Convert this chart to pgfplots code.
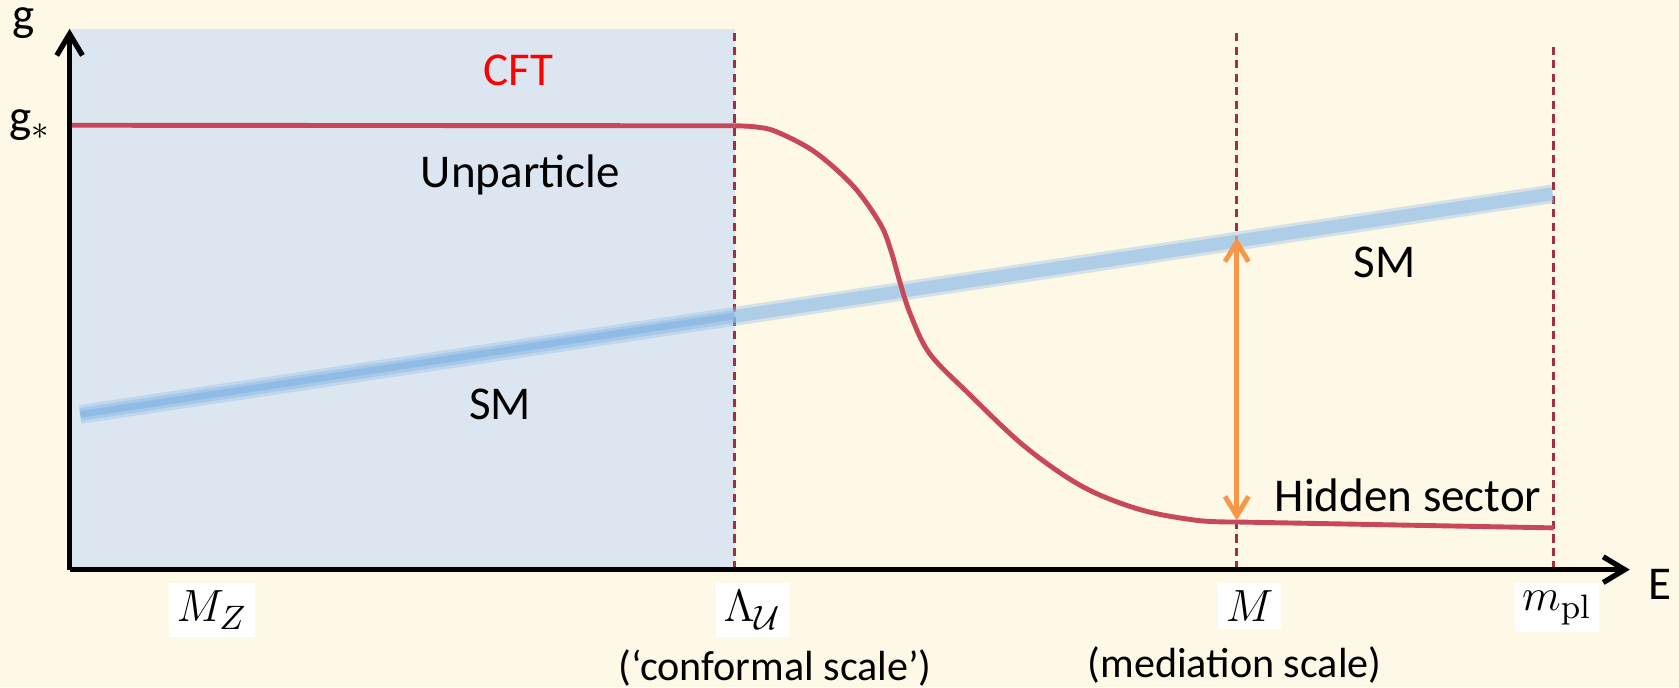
\documentclass[border=0pt]{standalone}
\usepackage[no-math]{fontspec}
\setmainfont{Carlito}
\usepackage{pgfplots}
\pgfplotsset{compat=1.18}
\usetikzlibrary{arrows.meta}
\definecolor{cream}{RGB}{254,248,230}
\definecolor{shade}{RGB}{220,230,241}
\definecolor{redc}{RGB}{200,72,90}
\definecolor{dashc}{RGB}{160,48,64}
\definecolor{bluec}{RGB}{150,192,232}
\definecolor{bluecore}{RGB}{135,182,228}
\definecolor{orangec}{RGB}{247,150,70}
\begin{document}
\begin{tikzpicture}
\path[use as bounding box, fill=cream] (-0.65,-1.10) rectangle (15.03,5.32);
\begin{axis}[
  scale only axis, width=14.57cm, height=5.05cm,
  xmin=0, xmax=1457, ymin=0, ymax=505,
  axis x line=bottom, axis y line=left,
  axis on top, clip=false,
  axis line style={line width=1.4pt, black, -{Straight Barb[length=2mm,width=2.4mm]}},
  xtick={133,638,1102,1389},
  xticklabels={$M_Z$,$\Lambda_{\mathcal{U}}$,$M$,$m_{\mathrm{pl}}$},
  ytick={415},
  yticklabels={g$_*$},
  major tick length=0pt,
  xtick style={draw=none}, ytick style={draw=none},
  xticklabel style={font=\fontsize{13}{15}\selectfont, fill=white, inner sep=2pt, yshift=-0.12cm},
  yticklabel style={font=\fontsize{12.5}{15}\selectfont, xshift=-0.05cm},
]
% shaded CFT region
\addplot[fill=shade, draw=none] coordinates {(0,505) (621,505)} \closedcycle;
% dashed scale lines
\addplot[dashc, line width=0.8pt, dash pattern=on 2.2pt off 1.4pt] coordinates {(621,0) (621,505)};
\addplot[dashc, line width=0.8pt, dash pattern=on 2.2pt off 1.4pt] coordinates {(1090,0) (1090,505)};
\addplot[dashc, line width=0.8pt, dash pattern=on 2.2pt off 1.4pt] coordinates {(1386,0) (1386,492)};
% SM coupling (blurred blue band)
\addplot[bluec, line width=5pt, opacity=0.4] coordinates {(10,145) (1385,351)};
\addplot[bluec, line width=3.4pt, opacity=0.6] coordinates {(10,145) (1385,351)};
\addplot[bluecore, line width=1.8pt, opacity=0.7] coordinates {(10,145) (621,237)};
% hidden sector coupling
\addplot[redc, line width=1.3pt] coordinates {(0,415) (621,414.5)};
\addplot[redc, line width=1.3pt, smooth, tension=0.55] coordinates {
  (621,414.5) (640,413.5) (660,409) (696,390) (732,358) (757,323) (767,298)
  (775,270) (785,239) (803,202) (839,165) (892,115) (946,77.5)
  (1000,56) (1053,46) (1090,44.5)};
\addplot[redc, line width=1.3pt] coordinates {(1090,44.5) (1386,39)};
% mediation arrow
\addplot[orangec, line width=1.3pt, {Straight Barb[length=1.8mm,width=2.2mm]}-{Straight Barb[length=1.8mm,width=2.2mm]}] coordinates {(1090,46) (1090,310)};
% texts
\node[font=\fontsize{12.5}{15}\selectfont, text=red] at (axis cs:419,466) {CFT};
\node[font=\fontsize{12.5}{15}\selectfont] at (axis cs:421,369) {Unparticle};
\node[font=\fontsize{12.5}{15}\selectfont] at (axis cs:402,154) {SM};
\node[font=\fontsize{12.5}{15}\selectfont] at (axis cs:1228,287) {SM};
\node[font=\fontsize{12.5}{15}\selectfont] at (axis cs:1250,69) {Hidden sector};
\node[font=\fontsize{12.5}{15}\selectfont] at (axis cs:-43,510) {g};
\node[font=\fontsize{12.5}{15}\selectfont] at (axis cs:1485,-14) {E};
\node[font=\fontsize{11.2}{13}\selectfont] at (axis cs:659,-92) {(‘conformal scale’)};
\node[font=\fontsize{11.2}{13}\selectfont] at (axis cs:1088,-89) {(mediation scale)};
\end{axis}
\end{tikzpicture}
\end{document}
